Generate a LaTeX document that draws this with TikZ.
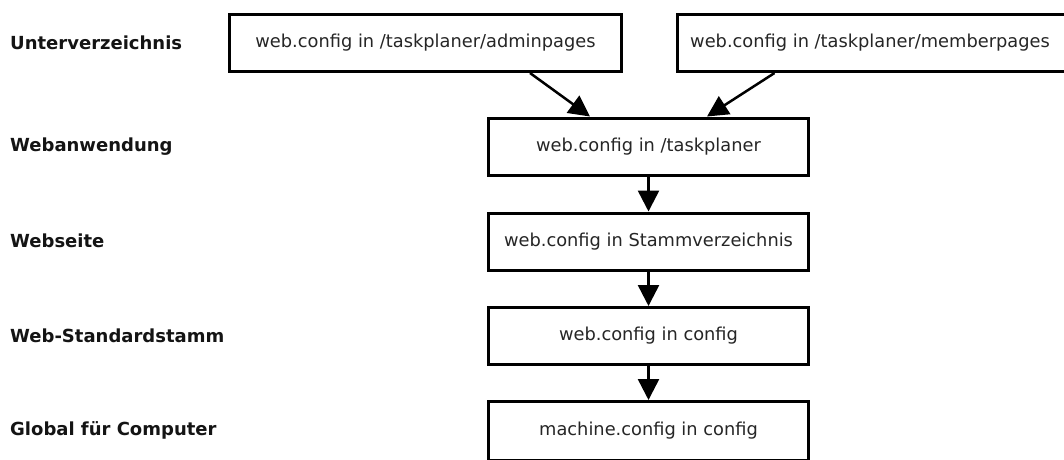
\documentclass[tikz,border=0pt]{standalone}
\usepackage{fontspec}
\setmainfont{DejaVu Sans}
\usetikzlibrary{arrows.meta}
\begin{document}
\begin{tikzpicture}[x=1pt,y=-1pt,
  cfgbox/.style={draw=black,line width=3pt,fill=white,rectangle,inner sep=0pt,
    minimum height=57pt,font=\fontsize{17.8}{21}\selectfont,text=black!85},
  lvl/.style={anchor=west,inner sep=0pt,font=\fontsize{18}{21}\selectfont\bfseries,text=black!92},
  conn/.style={line width=2.5pt,-{Triangle[length=21pt,width=21pt]}}]
\clip (0,0) rectangle (1064,459);
\fill[white] (0,0) rectangle (1064,459);
\node[lvl] (l1) at (10,43) {Unterverzeichnis};
\node[lvl] (l2) at (10,147) {Webanwendung};
\node[lvl] (l3) at (10,241) {Webseite};
\node[lvl] (l4) at (10,336) {Web-Standardstamm};
\node[lvl] (l5) at (10,430) {Global für Computer};
\node[cfgbox,minimum width=392pt] (b1) at (425.5,43) {web.config in /taskplaner/adminpages};
\node[cfgbox,minimum width=390pt] (b2) at (872,43) {\hspace*{-4pt}web.config in /taskplaner/memberpages};
\node[cfgbox,minimum width=320pt] (b3) at (648.5,146.5) {web.config in /taskplaner};
\node[cfgbox,minimum width=320pt] (b4) at (648.5,241.5) {web.config in Stammverzeichnis};
\node[cfgbox,minimum width=320pt] (b5) at (648.5,336) {web.config in config};
\node[cfgbox,minimum width=320pt,minimum height=59pt] (b6) at (648.5,431) {machine.config in config};
\draw[conn] ([xshift=-93pt]b1.south east) -- ([xshift=103pt]b3.north west);
\draw[conn] ([xshift=99pt]b2.south west) -- ([xshift=-103pt]b3.north east);
\draw[conn] (b3) -- (b4);
\draw[conn] (b4) -- (b5);
\draw[conn] (b5) -- (b6);
\end{tikzpicture}
\end{document}
